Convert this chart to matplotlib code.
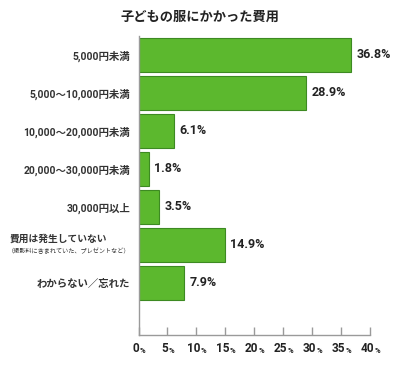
import matplotlib
matplotlib.use("Agg")
import matplotlib.pyplot as plt
from matplotlib.transforms import blended_transform_factory

plt.rcParams['font.family'] = ['Roboto', 'Noto Sans CJK JP', 'DejaVu Sans']

title = "子どもの服にかかった費用"
categories = ["5,000円未満", "5,000〜10,000円未満", "10,000〜20,000円未満",
              "20,000〜30,000円未満", "30,000円以上",
              "費用は発生していない\n（撮影料に含まれていた、プレゼントなど）",
              "わからない／忘れた"]
values = [36.8, 28.9, 6.1, 1.8, 3.5, 14.9, 7.9]
xticks = [0, 5, 10, 15, 20, 25, 30, 35, 40]

fig = plt.figure(figsize=(4.0, 3.84), dpi=100)
ax = fig.add_axes([138.5/400, 1 - 335/384, (370-138.5)/400, (335-36)/384])

y = list(range(len(values)))
ax.barh(y, values, height=0.88, color="#5cb82e", edgecolor="#3d8a22", linewidth=0.8)
ax.set_xlim(0, 40)
ax.set_ylim(7.37, -0.5)

for s in ["top", "right"]:
    ax.spines[s].set_visible(False)
for s in ["left", "bottom"]:
    ax.spines[s].set_color("#9a9a9a")
    ax.spines[s].set_linewidth(1.0)

ax.set_yticks(y)
labels = [c if "\n" not in c else "" for c in categories]
ax.set_yticklabels(labels, fontsize=7.5, fontweight="bold", color="#333333")
ax.tick_params(axis="y", length=0, pad=6)

ax.set_xticks(xticks)
ax.set_xticklabels([])
ax.tick_params(axis="x", direction="in", length=6, color="#9a9a9a", width=1.0)

tr = blended_transform_factory(ax.transData, ax.transAxes)
for v in xticks:
    t = ax.annotate(str(v), xy=(v, 0), xycoords=tr, xytext=(-2, -5),
                    textcoords="offset points", ha="center", va="top",
                    fontsize=8.5, fontweight="bold", color="#222222")
    ax.annotate("%", xy=(1, 0.08), xycoords=t, xytext=(0.5, 0),
                textcoords="offset points", ha="left", va="bottom",
                fontsize=5.5, fontweight="bold", color="#222222")

# multi-line label with smaller second line
trl = blended_transform_factory(ax.transAxes, ax.transData)
for i, c in enumerate(categories):
    if "\n" in c:
        l1, l2 = c.split("\n")
        ax.annotate(l1, xy=(0, i), xycoords=trl, xytext=(-128.5*0.72, 4.5),
                    textcoords="offset points", ha="left", va="center",
                    fontsize=7, fontweight="bold", color="#333333")
        ax.annotate(l2, xy=(0, i), xycoords=trl, xytext=(-6, -4.5),
                    textcoords="offset points", ha="right", va="center",
                    fontsize=4.4, color="#333333")

for i, v in enumerate(values):
    ax.annotate(f"{v}%", xy=(v, i), xytext=(4, 0), textcoords="offset points",
                ha="left", va="center", fontsize=9, fontweight="bold", color="#222222")

fig.text(0.5, 1 - 17/384, title, ha="center", va="center", fontsize=9.5,
         fontweight="bold", color="#222222")

fig.savefig("out.png", dpi=100)
